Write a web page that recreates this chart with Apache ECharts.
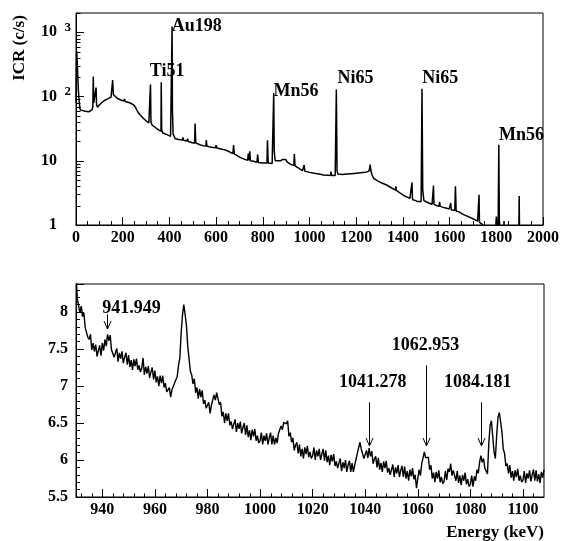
<!DOCTYPE html>
<html><head><meta charset="utf-8">
<script src="https://cdn.jsdelivr.net/npm/echarts@6/dist/echarts.min.js"></script>
<style>html,body{margin:0;padding:0;background:#fff}#c{width:562px;height:541px}</style>
</head><body><div id="c"></div>
<script>
// ---- top panel: full spectrum [energy keV, ICR c/s] ----
const topSpectrum = [
 [0,80],[3,510],[6,300],[10,129],[14,80],[18,62],[25,60],[40,59],[55,58],[62,60],[68,62],[72,68],[74,205],[76,80],[80,75],[84,78],[86,138],[88,75],[92,68],
 [100,74],[110,80],[120,86],[135,92],[150,98],[155,104],[157,180],[160,108],[165,102],[175,95],[190,89],[205,85],[208,92],[211,84],[230,80],[245,75],[255,68],[262,60],[272,53],[285,47],
 [300,42],[312,39],[318,38],[319,154],[321,40],[326,36],[340,33],[355,30],[364,29],[365,167],[367,30],[372,27],[390,25.5],[405,24],[410,23.5],[411.5,1230],[413,60],[416,26],[425,22],
 [440,21.5],[455,21],[458,23],[461,20.8],[475,20.3],[478,22],[481,20],[495,19.3],[508,18.8],[510,38],[513,19],[530,17.8],[545,17.2],[556,17],[558,21],[561,16.8],[580,16.3],
 [598,15.9],[600,17.5],[603,15.8],[620,15.3],[640,14.7],[650,14.2],[660,13.6],[672,13],[675,17.5],[678,12.8],[690,12],[705,11.2],[720,10.6],[735,10.2],[738,13],[741,10.1],[744,14],[747,10],
 [760,9.8],[775,9.5],[778,12.5],[781,9.4],[800,9.2],[818,9.2],[820,20.8],[823,9.2],[840,9.1],[845,9.5],[846.8,114],[849,14],[853,10],[860,9.8],[875,10],[885,10.5],[893,11.2],[898,10.5],
 [905,9.5],[920,8.8],[933,8.4],[935,12.7],[938,8.3],[955,7.6],[970,7.0],[975,6.9],[977,8.6],[980,6.9],[1000,6.6],[1020,6.4],[1040,6.2],[1060,6.0],[1080,5.95],[1090,5.9],[1092,6.8],[1095,5.9],
 [1110,5.9],[1115,129],[1118,7.0],[1122,6.2],[1140,6.1],[1160,6.2],[1180,6.3],[1200,6.4],[1220,6.5],[1240,6.6],[1255,6.9],[1260,8.7],[1263,7.0],[1268,6.0],[1275,5.3],[1290,4.9],[1310,4.5],
 [1330,4.2],[1350,3.8],[1368,3.5],[1370,4.0],[1372,3.45],[1390,3.1],[1410,2.8],[1430,2.6],[1437,2.5],[1439,4.6],[1441,2.5],[1460,2.35],[1478,2.3],[1481.8,132],[1485,3.5],[1490,2.4],
 [1510,2.2],[1525,2.1],[1529,2.1],[1531,4.1],[1533,2.1],[1545,2.0],[1555,1.95],[1557,2.3],[1560,1.95],[1580,1.85],[1598,1.78],[1603,1.75],[1605,2.2],[1607,1.73],[1622,1.68],[1625,4.0],[1628,1.65],
 [1640,1.6],[1660,1.45],[1680,1.35],[1700,1.25],[1720,1.15],[1724,1.12],[1726,2.95],[1728,1.1],[1740,1.02],[1750,0.9],[1770,0.7],[1795,0.6],[1800,1.35],[1805,0.9],[1808,1.0],[1810.7,17.8],
 [1813,1.2],[1818,0.7],[1830,0.6],[1833,1.15],[1836,0.6],[1880,0.5],[1896,0.5],[1898,2.84],[1900,0.5],[2000,0.5]
];
const peakNames = ['Ti51','Au198','Mn56','Ni65','Ni65','Mn56'];
const peakLabelPos = [[316,246],[410,1241],[846,120],[1120,191],[1483,191],[1812,24.6]];
const logMinorTicks = [2,3,4,5,6,7,8,9,20,30,40,50,60,70,80,90,200,300,400,500,600,700,800,900,2000];

// ---- bottom panel: zoom 930-1108 keV, 0.5 keV bins ----
const zoomStart = 930, zoomBin = 0.5;
const zoomRate = [
 8.53,8.18,8.18,7.99,8.08,7.94,7.99,7.79,7.81,7.66,
 7.63,7.70,7.49,7.58,7.47,7.56,7.40,7.48,7.55,7.41,
 7.58,7.48,7.63,7.54,7.70,7.61,7.69,7.49,7.51,7.39,
 7.40,7.51,7.33,7.45,7.37,7.47,7.31,7.39,7.45,7.29,
 7.42,7.26,7.35,7.22,7.36,7.27,7.37,7.22,7.28,7.19,
 7.24,7.38,7.15,7.26,7.17,7.27,7.11,7.19,7.25,7.09,
 7.21,7.05,7.13,7.00,7.14,7.04,7.14,6.98,7.04,6.92,
 6.93,6.98,6.85,6.95,6.94,7.04,7.02,7.13,7.28,7.38,
 7.72,7.96,8.10,7.97,7.82,7.54,7.37,7.20,7.15,7.03,
 7.10,6.91,6.98,6.83,6.96,6.85,6.94,6.76,6.81,6.70,
 6.71,6.78,6.63,6.74,6.73,6.88,6.81,6.91,6.92,6.75,
 6.78,6.59,6.65,6.50,6.63,6.53,6.63,6.47,6.52,6.42,
 6.44,6.55,6.38,6.50,6.42,6.52,6.36,6.44,6.50,6.34,
 6.47,6.31,6.40,6.27,6.41,6.32,6.42,6.26,6.33,6.23,
 6.26,6.37,6.21,6.33,6.26,6.36,6.21,6.30,6.37,6.21,
 6.33,6.21,6.30,6.23,6.36,6.34,6.46,6.41,6.51,6.50,
 6.49,6.53,6.32,6.37,6.24,6.30,6.13,6.20,6.24,6.09,
 6.21,6.05,6.15,6.02,6.17,6.08,6.19,6.04,6.11,6.02,
 6.06,6.17,6.00,6.13,6.05,6.15,6.00,6.08,6.15,5.99,
 6.13,5.97,6.06,5.93,6.07,5.98,6.08,5.92,5.98,5.89,
 5.91,6.02,5.85,5.97,5.89,6.00,5.84,5.93,5.99,5.84,
 5.96,5.84,5.93,5.92,6.09,6.10,6.24,6.15,6.13,6.02,
 6.00,6.13,6.03,6.16,6.05,6.12,5.95,6.01,6.05,5.90,
 6.03,5.87,5.96,5.84,5.98,5.89,5.99,5.83,5.89,5.80,
 5.82,5.94,5.77,5.90,5.82,5.93,5.77,5.86,5.92,5.77,
 5.91,5.75,5.85,5.72,5.87,5.78,5.89,5.74,5.80,5.62,
 5.75,5.87,5.79,5.95,5.96,6.11,6.03,6.05,6.04,5.87,
 5.93,5.75,5.83,5.70,5.84,5.75,5.86,5.70,5.77,5.68,
 5.71,5.85,5.73,5.88,5.84,5.95,5.79,5.86,5.88,5.72,
 5.85,5.69,5.79,5.66,5.80,5.72,5.83,5.67,5.74,5.64,
 5.67,5.79,5.64,5.78,5.72,5.87,5.82,5.97,6.06,5.97,
 6.02,5.89,5.90,5.81,6.22,6.47,6.53,6.32,6.11,6.02,
 6.33,6.58,6.64,6.52,6.38,6.15,6.09,5.92,5.95,5.82,
 5.93,5.76,5.85,5.72,5.86,5.77,5.88,5.72,5.79,5.70,
 5.73,5.85,5.69,5.82,5.75,5.86,5.71,5.80,5.87,5.72,
 5.86,5.71,5.81,5.69,5.84,5.76,5.87
];
const lineEnergies = [941.949, 1041.278, 1062.953, 1084.181];
const lineLabels = ['941.949','1041.278','1062.953','1084.181'];
const arrowSpans = [[7.97,7.77],[6.78,6.19],[7.28,6.19],[6.78,6.19]];
const lineLabelPos = [[951.1,8.055],[1042.9,7.05],[1062.9,7.55],[1082.8,7.05]];

const FONT = '"Liberation Serif", "Times New Roman", serif';
const zoomData = zoomRate.map((v, i) => [zoomStart + i * zoomBin, v]);
const zoomMinorX = [];
for (let e = 932; e < 1108; e += 4) if (e % 20 !== 0) zoomMinorX.push([e, 5.5]);

function tickSeries(xi, yi, data, vertical, len) {
  return {
    type: 'custom', xAxisIndex: xi, yAxisIndex: yi, silent: true, clip: false, z: 5,
    data: data,
    renderItem: (p, api) => {
      const c = api.coord([api.value(0), api.value(1)]);
      const x = Math.round(c[0]) + 0.5, y = Math.round(c[1]) + 0.5;
      return { type: 'line', shape: vertical ? {x1: x, y1: y, x2: x, y2: y - len} : {x1: x, y1: y, x2: x + len, y2: y},
        style: { stroke: '#000', lineWidth: 1 } };
    }
  };
}
function textSeries(xi, yi, pos, texts, align) {
  return {
    type: 'custom', xAxisIndex: xi, yAxisIndex: yi, silent: true, clip: false, z: 6,
    data: pos,
    renderItem: (p, api) => {
      const c = api.coord([api.value(0), api.value(1)]);
      return { type: 'text', x: c[0], y: c[1],
        style: { text: texts[p.dataIndex], font: 'bold 18px ' + FONT, fill: '#000', align: align, verticalAlign: 'middle' } };
    }
  };
}

const axisCommon = {
  axisLine: { show: true, lineStyle: { color: '#000', width: 1 } },
  splitLine: { show: false },
  axisLabel: { color: '#000', fontFamily: FONT, fontWeight: 'bold', fontSize: 16, formatter: v => String(v) },
};

const chart = echarts.init(document.getElementById('c'), null, { renderer: 'canvas' });
chart.setOption({
  animation: false,
  backgroundColor: '#fff',
  grid: [
    { left: 76, top: 13, width: 468, height: 212, show: true, borderColor: '#000', borderWidth: 1, backgroundColor: 'transparent' },
    { left: 76, top: 284, width: 468, height: 213, show: true, borderColor: '#000', borderWidth: 1, backgroundColor: 'transparent' }
  ],
  xAxis: [
    { ...axisCommon, type: 'value', gridIndex: 0, min: 0, max: 2000, interval: 200,
      axisTick: { inside: true, length: 8, lineStyle: { color: '#000' } },
      minorTick: { show: true, splitNumber: 4, length: 4, lineStyle: { color: '#000' } },
      axisLabel: { ...axisCommon.axisLabel, margin: 5 } },
    { ...axisCommon, type: 'value', gridIndex: 1, min: 930, max: 1108, splitNumber: 9,
      axisTick: { inside: true, length: 8, lineStyle: { color: '#000' } },
      axisLabel: { ...axisCommon.axisLabel, margin: 5, showMinLabel: false, showMaxLabel: false } }
  ],
  yAxis: [
    { ...axisCommon, type: 'log', gridIndex: 0, min: 1, max: 2000, logBase: 10,
      axisTick: { inside: true, length: 8, lineStyle: { color: '#000' } },
      axisLabel: { ...axisCommon.axisLabel, margin: 5, showMaxLabel: false,
        formatter: v => {
          const e = Math.round(Math.log10(v));
          if (e <= 1) return '{b|' + Math.round(v) + '}{e|}';
          return '{b|10}{s|' + e + '}';
        },
        rich: {
          b: { fontFamily: FONT, fontWeight: 'bold', fontSize: 16, color: '#000' },
          e: { width: 14 },
          s: { fontFamily: FONT, fontWeight: 'bold', fontSize: 13, color: '#000', width: 14, align: 'right', padding: [0, 0, 10, 0] }
        } } },
    { ...axisCommon, type: 'value', gridIndex: 1, min: 5.5, max: 8.38, interval: 0.5,
      axisTick: { inside: true, length: 8, lineStyle: { color: '#000' } },
      minorTick: { show: true, splitNumber: 5, length: 4, lineStyle: { color: '#000' } },
      axisLabel: { ...axisCommon.axisLabel, margin: 8, showMaxLabel: false } }
  ],
  series: [
    { type: 'line', xAxisIndex: 0, yAxisIndex: 0, data: topSpectrum, showSymbol: false, symbol: 'none',
      lineStyle: { color: '#000', width: 1.5 }, clip: true, z: 3 },
    { type: 'line', xAxisIndex: 1, yAxisIndex: 1, data: zoomData, showSymbol: false, symbol: 'none',
      lineStyle: { color: '#000', width: 1.4 }, clip: true, z: 3 },
    tickSeries(0, 0, logMinorTicks.map(v => [0, v]), false, 4),
    tickSeries(1, 1, zoomMinorX, true, 4),
    textSeries(0, 0, peakLabelPos, peakNames, 'left'),
    textSeries(1, 1, lineLabelPos, lineLabels, 'center'),
    {
      type: 'custom', xAxisIndex: 1, yAxisIndex: 1, silent: true, clip: false, z: 6,
      data: lineEnergies.map((e, i) => [e, arrowSpans[i][0], arrowSpans[i][1]]),
      encode: { x: 0, y: [1, 2] },
      renderItem: (p, api) => {
        const a = api.coord([api.value(0), api.value(1)]);
        const b = api.coord([api.value(0), api.value(2)]);
        const x = Math.round(a[0]) + 0.5;
        const st = { stroke: '#000', lineWidth: 1, fill: null };
        return { type: 'group', children: [
          { type: 'line', shape: { x1: x, y1: a[1], x2: x, y2: b[1] }, style: st },
          { type: 'polyline', shape: { points: [[x - 3.5, b[1] - 8], [x, b[1]], [x + 3.5, b[1] - 8]] }, style: st }
        ] };
      }
    }
  ],
  graphic: [
    { type: 'text', x: 20, y: 48, rotation: Math.PI / 2,
      style: { text: 'ICR (c/s)', font: 'bold 17px ' + FONT, fill: '#000', align: 'center', verticalAlign: 'middle' } },
    { type: 'text', x: 544, y: 533,
      style: { text: 'Energy (keV)', font: 'bold 17px ' + FONT, fill: '#000', align: 'right', verticalAlign: 'middle' } }
  ]
});
</script></body></html>
